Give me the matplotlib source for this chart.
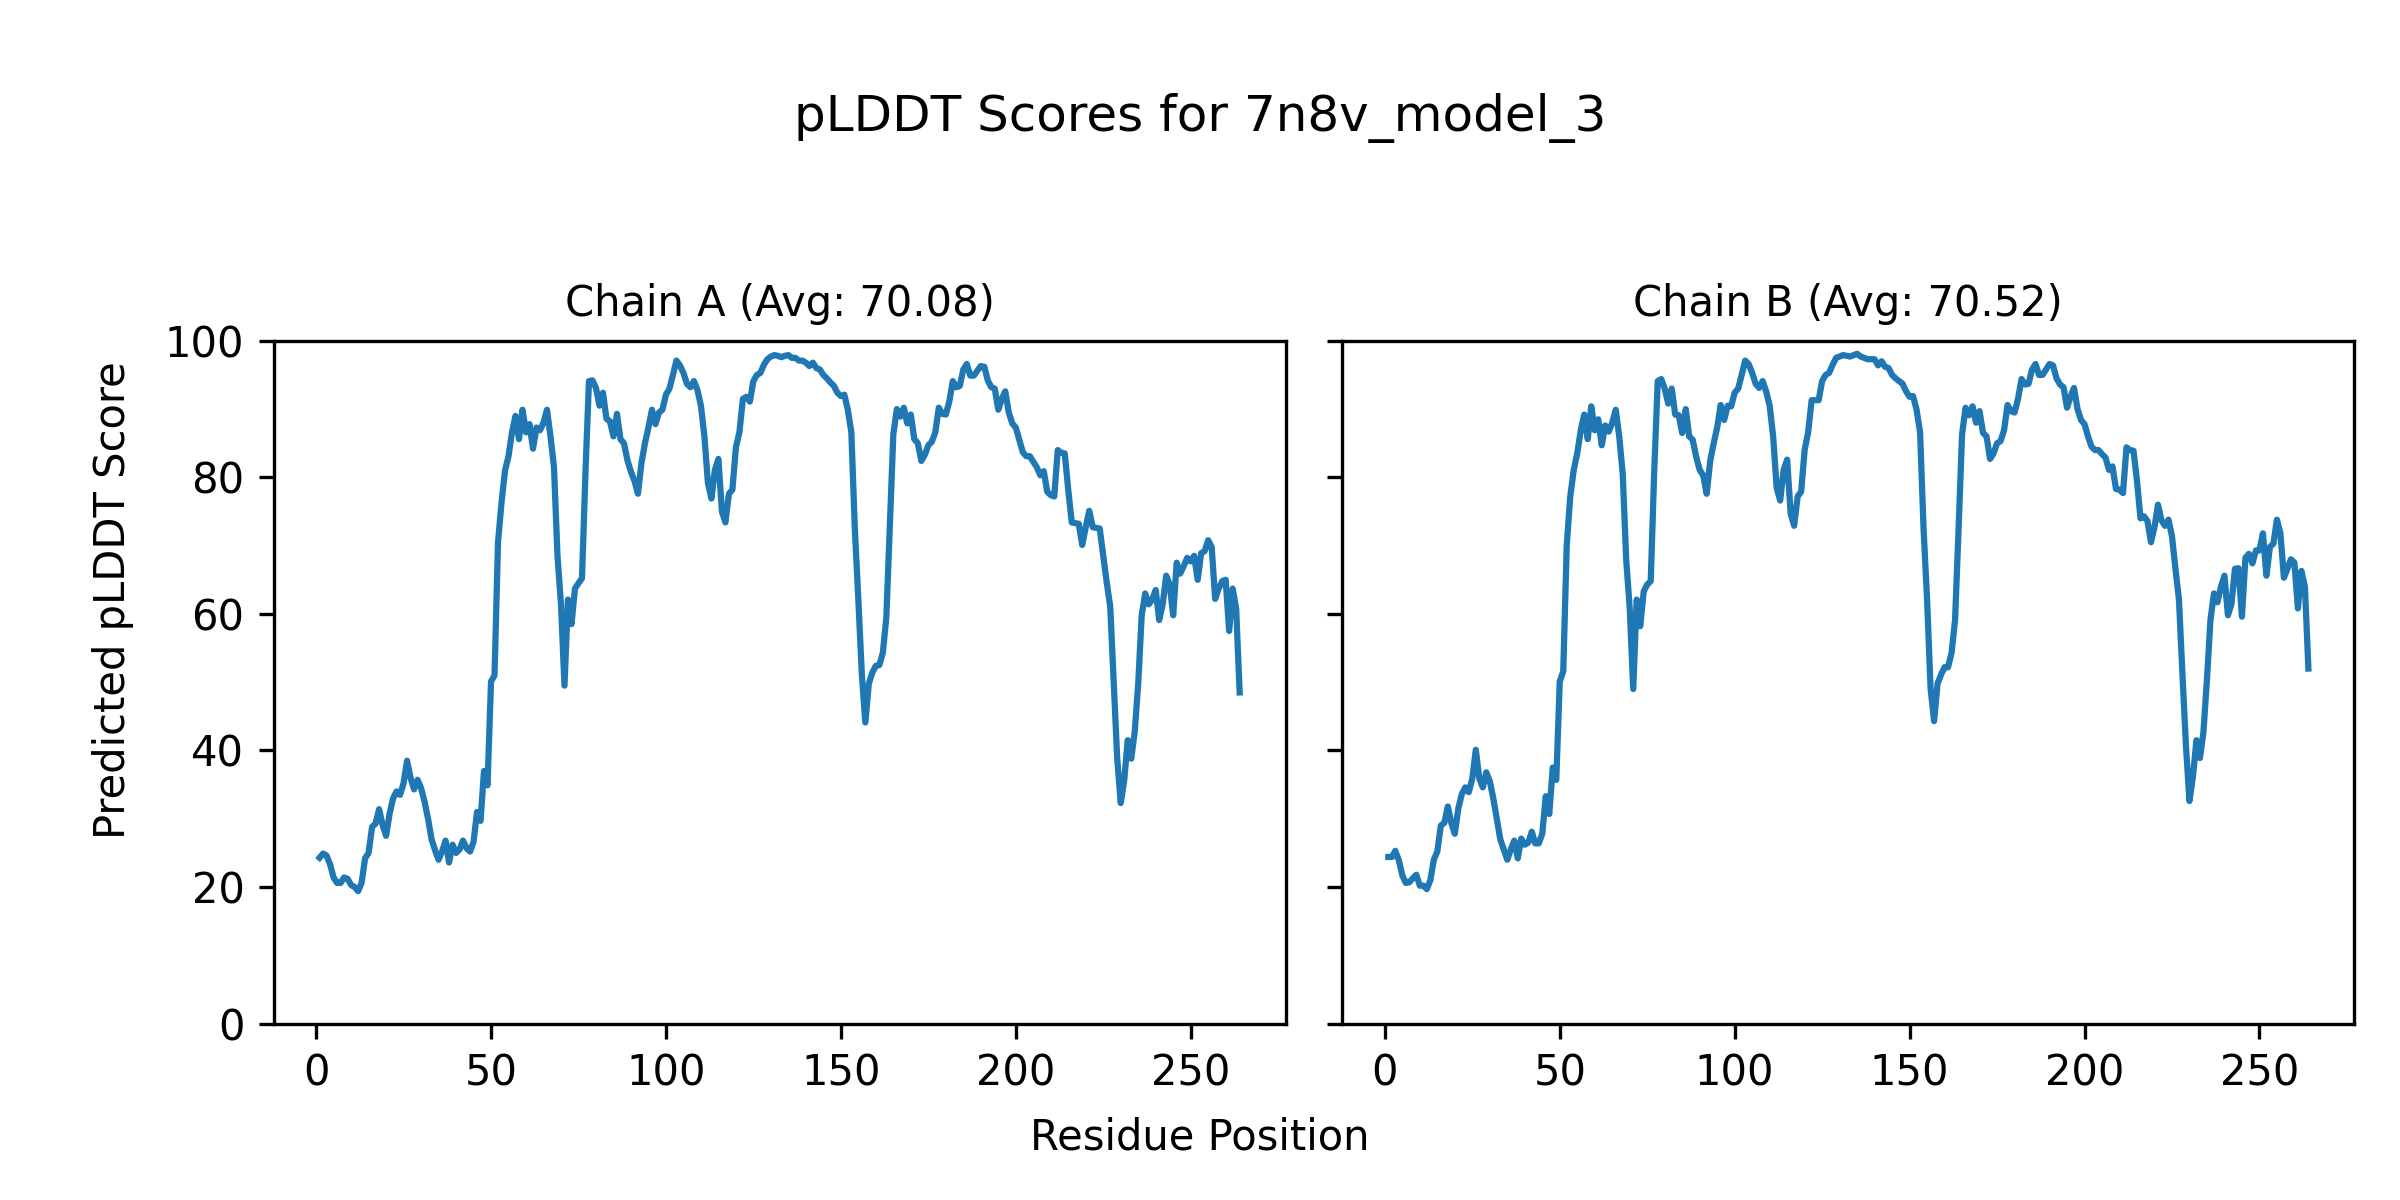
import numpy as np
import matplotlib.pyplot as plt

model_name = "7n8v_model_3"
chain_ids = ["A", "B"]
chain_avgs = [70.08, 70.52]

# pLDDT per residue (residues 1..264)
plddt_a = [
    24.3, 24.9, 24.6, 23.3, 21.4, 20.6, 20.6, 21.4, 21.2, 20.3,
    20.0, 19.4, 20.6, 24.2, 25.0, 28.8, 29.3, 31.4, 29.1, 27.5,
    30.7, 33.0, 34.0, 33.5, 35.2, 38.5, 36.0, 34.3, 35.7, 34.5,
    32.5, 30.0, 27.0, 25.4, 24.0, 25.2, 26.8, 23.6, 26.2, 25.0,
    25.5, 26.8, 25.7, 25.2, 26.6, 31.0, 29.7, 37.0, 34.9, 50.1,
    51.0, 70.5, 76.3, 81.0, 83.1, 86.6, 89.0, 85.6, 89.9, 86.6,
    87.8, 84.2, 87.3, 86.9, 88.0, 89.9, 86.0, 81.5, 68.5, 61.4,
    49.5, 62.1, 58.5, 63.7, 64.5, 65.2, 80.8, 94.1, 94.2, 93.1,
    90.5, 92.4, 88.6, 88.2, 86.0, 89.3, 85.6, 85.0, 82.5, 80.8,
    79.5, 77.6, 82.1, 85.0, 87.3, 89.9, 87.8, 89.5, 89.9, 92.1,
    93.0, 95.0, 97.1, 96.4, 95.3, 93.7, 93.2, 94.1, 92.8, 90.5,
    86.0, 79.2, 76.9, 81.1, 82.7, 75.0, 73.4, 77.6, 78.2, 84.4,
    86.6, 91.5, 91.8, 91.1, 94.1, 95.0, 95.3, 96.5, 97.3, 97.7,
    97.9, 97.8, 97.6, 97.8, 97.9, 97.5, 97.5, 97.1, 97.1, 96.8,
    96.3, 96.8, 96.0, 95.8, 95.0, 94.5, 93.9, 93.4, 92.4, 91.9,
    92.1, 89.9, 86.6, 72.4, 62.1, 51.1, 44.1, 49.8, 51.4, 52.4,
    52.5, 54.3, 59.5, 73.0, 86.3, 90.0, 88.9, 90.2, 87.9, 89.2,
    85.6, 85.0, 82.4, 83.3, 84.7, 85.2, 86.6, 90.2, 89.3, 89.2,
    91.1, 94.1, 93.2, 93.4, 95.8, 96.6, 94.9, 94.9, 95.6, 96.3,
    96.2, 94.2, 93.2, 93.0, 89.9, 91.5, 92.6, 89.5, 87.9, 87.3,
    85.5, 83.7, 83.1, 83.1, 82.3, 81.5, 80.3, 80.9, 77.9, 77.4,
    77.2, 84.0, 83.6, 83.5, 78.2, 73.4, 73.3, 73.2, 70.1, 72.7,
    75.1, 72.7, 72.6, 72.5, 68.5, 64.6, 61.1, 49.8, 38.8, 32.3,
    35.6, 41.5, 38.8, 42.7, 49.8, 59.8, 63.0, 61.4, 62.1, 63.5,
    59.1, 61.4, 65.6, 64.3, 59.8, 67.5, 65.9, 67.0, 68.2, 67.7,
    68.5, 65.0, 68.9, 69.2, 70.8, 69.8, 62.2, 63.7, 64.8, 65.0,
    57.5, 63.7, 60.8, 48.5,
]

plddt_b = [
    24.4, 24.4, 25.3, 23.9, 21.7, 20.6, 20.7, 21.3, 21.8, 20.2,
    20.2, 19.7, 21.0, 24.0, 25.2, 29.0, 29.4, 31.8, 29.4, 27.8,
    31.5, 33.6, 34.6, 33.9, 35.9, 40.1, 35.9, 34.6, 36.8, 35.5,
    33.0, 30.0, 27.0, 25.5, 24.0, 25.5, 26.8, 24.2, 27.1, 26.2,
    26.5, 28.1, 26.4, 26.4, 27.8, 33.3, 30.7, 37.5, 35.7, 50.1,
    51.6, 70.1, 77.2, 81.1, 83.5, 86.9, 89.2, 85.6, 90.4, 86.9,
    88.5, 84.7, 87.6, 86.7, 88.0, 89.9, 86.0, 80.5, 67.9, 60.8,
    49.0, 62.1, 58.2, 63.3, 64.3, 64.8, 80.8, 94.1, 94.4, 93.0,
    90.8, 93.0, 89.2, 89.1, 86.5, 90.0, 86.0, 85.5, 83.0, 81.1,
    80.3, 77.6, 82.4, 85.0, 87.3, 90.6, 88.4, 90.5, 90.4, 92.4,
    93.0, 95.0, 97.1, 96.6, 95.3, 93.7, 93.1, 94.1, 92.6, 90.5,
    86.0, 78.5, 76.6, 81.1, 82.6, 74.7, 72.9, 77.2, 77.9, 84.0,
    86.6, 91.3, 91.3, 91.3, 94.1, 95.0, 95.3, 96.5, 97.5, 97.7,
    97.9, 97.8, 97.7, 97.9, 98.1, 97.7, 97.5, 97.3, 97.3, 97.3,
    96.4, 97.0, 96.2, 96.0, 95.0, 94.5, 94.1, 93.7, 92.6, 91.8,
    91.9, 89.9, 86.6, 72.4, 62.1, 49.1, 44.3, 49.8, 51.1, 52.2,
    52.2, 54.3, 59.1, 72.4, 86.3, 90.2, 89.1, 90.4, 88.0, 89.7,
    86.5, 86.0, 82.7, 83.5, 85.0, 85.3, 86.9, 90.6, 89.7, 89.5,
    91.5, 94.4, 93.6, 93.7, 95.8, 96.6, 95.0, 95.0, 95.8, 96.6,
    96.4, 94.5, 93.6, 93.2, 90.2, 91.8, 93.1, 90.0, 88.4, 87.8,
    86.0, 84.5, 84.0, 84.0, 83.4, 82.9, 81.1, 81.6, 78.3, 78.2,
    77.7, 84.4, 84.0, 83.9, 79.5, 74.0, 74.3, 73.6, 70.5, 72.7,
    76.0, 73.7, 72.9, 73.8, 71.4, 66.6, 62.1, 51.1, 40.7, 32.6,
    36.2, 41.5, 38.9, 42.7, 50.4, 59.1, 63.0, 61.7, 64.0, 65.6,
    59.8, 61.4, 66.6, 66.7, 59.6, 68.2, 68.8, 67.4, 69.3, 69.3,
    71.8, 65.6, 69.8, 70.3, 73.8, 71.8, 65.3, 66.6, 68.0, 67.5,
    60.8, 66.3, 64.0, 52.0,
]

chains = [plddt_a, plddt_b]

fig, axes = plt.subplots(1, 2, figsize=(8, 4), dpi=300, sharey=True)
fig.subplots_adjust(left=0.114, right=0.981, bottom=0.147, top=0.716, wspace=0.056)

for ax, cid, avg, scores in zip(axes, chain_ids, chain_avgs, chains):
    residues = np.arange(1, len(scores) + 1)
    ax.plot(residues, scores, color="C0", linewidth=1.5)
    ax.set_title(f"Chain {cid} (Avg: {avg:.2f})", fontsize=10)
    ax.set_ylim(0, 100)

fig.suptitle(f"pLDDT Scores for {model_name}", fontsize=12, y=0.902, va="center")
fig.supxlabel("Residue Position", fontsize=10, y=0.052, va="center")
fig.supylabel("Predicted pLDDT Score", fontsize=10, x=0.047, ha="center")

fig.savefig("out.png", dpi=300)
